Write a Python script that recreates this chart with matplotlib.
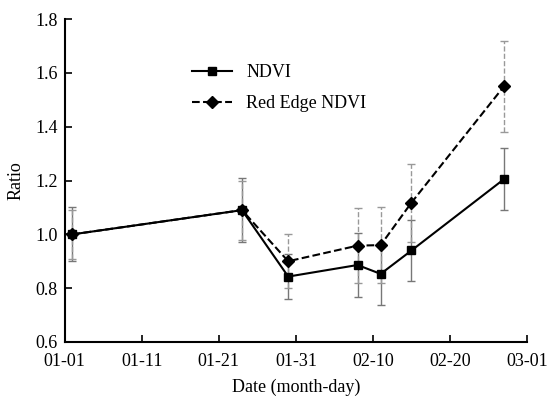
import datetime as dt
import matplotlib
matplotlib.use('Agg')
import matplotlib.pyplot as plt
import matplotlib.dates as mdates

# sampling dates (leap year so ticks every 10 days land on 03-01)
dates = ['2020-01-02', '2020-01-24', '2020-01-30', '2020-02-08',
         '2020-02-11', '2020-02-15', '2020-02-27']
ndvi = [1.00, 1.09, 0.843, 0.886, 0.853, 0.94, 1.205]
ndvi_err = [0.10, 0.12, 0.085, 0.12, 0.115, 0.115, 0.115]
re_ndvi = [1.00, 1.09, 0.90, 0.958, 0.96, 1.118, 1.55]
re_err = [0.09, 0.11, 0.10, 0.14, 0.14, 0.145, 0.17]

x = [dt.datetime.strptime(d, '%Y-%m-%d') for d in dates]

plt.rcParams['font.family'] = ['Liberation Serif', 'DejaVu Serif']

fig = plt.figure(figsize=(5.49, 3.99), dpi=100)
ax = fig.add_axes([0.118, 0.143, 0.842, 0.809])

# error bars first (grey), then the lines on top
eb1 = ax.errorbar(x, ndvi, yerr=ndvi_err, fmt='none', ecolor='#777777',
                  elinewidth=1.0, capsize=3, capthick=1.0, zorder=1)
eb2 = ax.errorbar(x, re_ndvi, yerr=re_err, fmt='none', ecolor='#999999',
                  elinewidth=1.0, capsize=3, capthick=1.0, zorder=1)
eb2[2][0].set_linestyle('--')

ax.plot(x, ndvi, '-', color='black', lw=1.5, marker='s', ms=6,
        label='NDVI', zorder=3)
ax.plot(x, re_ndvi, '--', color='black', lw=1.5, marker='D', ms=6,
        label='Red Edge NDVI', zorder=3)

ax.set_xlim(dt.datetime(2020, 1, 1), dt.datetime(2020, 3, 1))
ax.set_ylim(0.6, 1.8)
ax.set_xticks([dt.datetime(2020, 1, 1) + dt.timedelta(days=10 * i) for i in range(7)])
ax.xaxis.set_major_formatter(mdates.DateFormatter('%m-%d'))
ax.set_yticks([0.6, 0.8, 1.0, 1.2, 1.4, 1.6, 1.8])
ax.yaxis.set_major_formatter(plt.FormatStrFormatter('%.1f'))

ax.spines['top'].set_visible(False)
ax.spines['right'].set_visible(False)
ax.spines['left'].set_linewidth(1.5)
ax.spines['bottom'].set_linewidth(1.5)
ax.tick_params(direction='in', length=5, width=1.2, labelsize=13)
ax.tick_params(axis='x', pad=8)
ax.tick_params(axis='y', pad=5)

ax.set_xlabel('Date (month-day)', fontsize=13, labelpad=6)
ax.set_ylabel('Ratio', fontsize=13, labelpad=8)

ax.legend(loc='upper left', bbox_to_anchor=(0.24, 0.91), frameon=False,
          fontsize=13, handlelength=2.2, labelspacing=0.75)

fig.savefig('out.png', dpi=100)
